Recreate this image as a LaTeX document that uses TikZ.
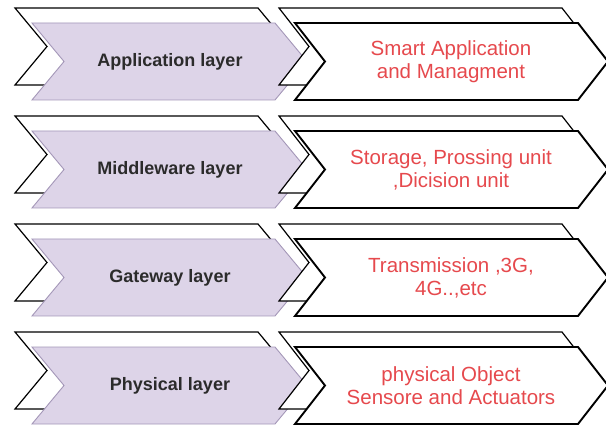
\documentclass[tikz,border=0pt]{standalone}
\usepackage{fontspec}
\setmainfont{Liberation Sans}
\definecolor{layerfill}{HTML}{DDD4E8}
\definecolor{layerline}{HTML}{A497B8}
\definecolor{layerink}{HTML}{2B2B2B}
\definecolor{infored}{HTML}{E6494D}
\tikzset{
  backbox/.style = {draw=black, fill=white, line width=1.2pt, line join=miter},
  layerbox/.style = {draw=layerline, fill=layerfill, line width=0.9pt},
  infobox/.style = {draw=black, fill=white, line width=1.9pt, line join=miter},
  layertext/.style = {text=layerink, align=center,
    font=\fontsize{18}{21}\selectfont\bfseries},
  infotext/.style = {text=infored, align=center,
    font=\fontsize{20.5}{23}\selectfont}
}
% chevron: style, x, y, width, depth
\newcommand\chevron[5]{%
  \path[#1] (#2,#3) -- ++(#4,0) -- ++(#5,38.5) -- ++(-#5,38.5)
    -- ++(-#4,0) -- ++(#5,-38.5) -- cycle;
}

\begin{document}
\begin{tikzpicture}[x=1pt,y=-1pt]
  \useasboundingbox (0,0) rectangle (606,425);
  \foreach \i/\layer/\info in {%
      0/Application layer/{Smart Application\\and Managment},
      1/Middleware layer/{Storage, Prossing unit\\,Dicision unit},
      2/Gateway layer/{Transmission ,3G,\\4G..,etc},
      3/Physical layer/{physical Object\\Sensore and Actuators}} {
    \pgfmathsetmacro\top{8+108*\i}
    \chevron{backbox}{15}{\top}{243}{32}
    \chevron{layerbox}{32}{\top+15}{243}{32}
    \chevron{backbox}{279}{\top}{283}{30}
    \chevron{infobox}{295}{\top+15}{283}{30}
    \node[layertext] (layer\i) at (170,\top+53.5) {\layer};
    \node[infotext] (info\i) at (451,\top+53.5) {\info};
  }
\end{tikzpicture}
\end{document}
